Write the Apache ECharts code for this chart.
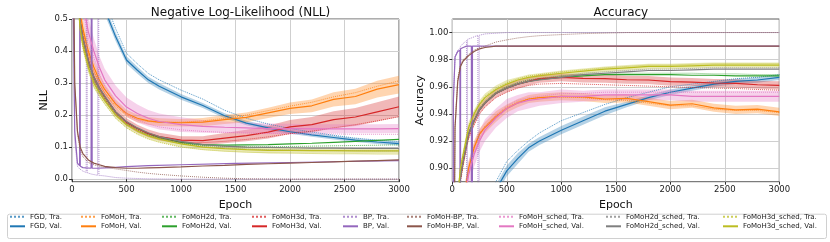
<!DOCTYPE html>
<html><head><meta charset="utf-8">
<script src="https://cdn.jsdelivr.net/npm/echarts@6/dist/echarts.min.js"></script>
<style>html,body{margin:0;padding:0;background:#fff}#c{width:830px;height:242px}</style>
</head><body><div id="c"></div><script>
// ---------- data ----------
const EPOCHS = [0,10,25,50,75,100,150,200,250,300,400,500,600,700,800,1000,1200,1400,1600,1800,2000,2200,2400,2600,2800,3000];
const BP_EPOCHS = [0,10,25,50,70,73,76,100,130,135,140,175,180,185,235,241,247,300,400,500,700,1000,1500,2000,2500,3000];
const X_TICKS = [0,500,1000,1500,2000,2500,3000];
const NLL_TICKS = [0,0.1,0.2,0.3,0.4,0.5];
const ACC_TICKS = [0.90,0.92,0.94,0.96,0.98,1.00];
const METHODS = ['FGD','FoMoH','FoMoH2d','FoMoH3d','BP','FoMoH-BP','FoMoH_sched','FoMoH2d_sched','FoMoH3d_sched'];

// NLL
const FGD_NLL_TRA = [2.30,2.20,2.00,1.60,1.30,1.10,0.85,0.72,0.63,0.56,0.47,0.393,0.36,0.33,0.31,0.278,0.25,0.215,0.19,0.172,0.158,0.147,0.137,0.128,0.122,0.117];
const FGD_NLL_VAL = [2.30,2.20,2.00,1.60,1.30,1.05,0.82,0.69,0.60,0.53,0.445,0.372,0.34,0.31,0.29,0.257,0.23,0.198,0.175,0.16,0.148,0.138,0.13,0.122,0.116,0.111];
const FOMOH_NLL_TRA = [2.30,1.60,1.00,0.63,0.51,0.46,0.39,0.34,0.30,0.27,0.228,0.20,0.186,0.18,0.178,0.178,0.182,0.19,0.20,0.214,0.228,0.24,0.257,0.27,0.29,0.307];
const FOMOH_NLL_VAL = [2.30,1.60,1.00,0.64,0.52,0.47,0.40,0.35,0.31,0.28,0.235,0.205,0.19,0.182,0.178,0.176,0.178,0.186,0.193,0.207,0.221,0.229,0.249,0.258,0.281,0.295];
const FOMOH2D_NLL_TRA = [2.30,1.55,0.95,0.59,0.48,0.43,0.36,0.31,0.275,0.25,0.203,0.172,0.152,0.137,0.126,0.112,0.105,0.102,0.101,0.101,0.102,0.103,0.104,0.105,0.106,0.107];
const FOMOH2D_NLL_VAL = [2.30,1.55,0.95,0.60,0.49,0.44,0.37,0.32,0.285,0.258,0.21,0.178,0.158,0.142,0.13,0.115,0.108,0.106,0.107,0.108,0.11,0.112,0.115,0.118,0.121,0.124];
const FOMOH3D_NLL_TRA = [2.30,1.55,0.95,0.59,0.48,0.43,0.36,0.31,0.278,0.25,0.205,0.173,0.153,0.138,0.128,0.116,0.114,0.118,0.124,0.132,0.142,0.15,0.16,0.17,0.182,0.195];
const FOMOH3D_NLL_VAL = [2.30,1.55,0.95,0.60,0.49,0.44,0.37,0.32,0.285,0.258,0.21,0.178,0.158,0.143,0.133,0.122,0.12,0.128,0.136,0.147,0.163,0.17,0.186,0.194,0.21,0.226];
const BP_NLL_TRA = [2.30,0.55,0.12,0.04,0.032,0.03,0.029,0.025,0.021,1.50,0.02,0.016,0.016,0.015,0.012,1.50,0.012,0.01,0.005,0.003,0.001,0.0,0.0,0.0,0.0,0.0];
const BP_NLL_VAL = [2.30,0.60,0.15,0.05,0.042,1.50,0.04,0.036,0.035,0.035,0.035,0.034,1.50,0.034,0.034,0.034,0.034,0.035,0.037,0.039,0.042,0.045,0.049,0.052,0.055,0.058];
const FOMOHBP_NLL_TRA = [2.30,0.80,0.30,0.14,0.09,0.07,0.052,0.045,0.04,0.037,0.032,0.027,0.022,0.018,0.015,0.01,0.006,0.003,0.001,0.0005,0.0,0.0,0.0,0.0,0.0,0.0];
const FOMOHBP_NLL_VAL = [2.30,0.80,0.30,0.15,0.10,0.08,0.06,0.05,0.045,0.04,0.036,0.034,0.034,0.035,0.036,0.038,0.041,0.043,0.046,0.048,0.05,0.052,0.054,0.056,0.058,0.06];
const SCHED_NLL_TRA = [2.30,1.70,1.10,0.70,0.58,0.53,0.44,0.38,0.33,0.29,0.24,0.205,0.185,0.172,0.163,0.154,0.149,0.146,0.144,0.143,0.142,0.141,0.141,0.14,0.14,0.14];
const SCHED_NLL_VAL = [2.30,1.70,1.10,0.72,0.60,0.55,0.46,0.40,0.35,0.31,0.26,0.225,0.205,0.19,0.18,0.17,0.165,0.162,0.16,0.158,0.158,0.157,0.157,0.157,0.157,0.158];
const SCHED2D_NLL_TRA = [2.30,1.55,0.95,0.59,0.48,0.43,0.36,0.31,0.275,0.25,0.202,0.172,0.152,0.138,0.127,0.112,0.102,0.097,0.094,0.092,0.091,0.09,0.089,0.089,0.088,0.088];
const SCHED2D_NLL_VAL = [2.30,1.55,0.95,0.60,0.49,0.44,0.37,0.32,0.285,0.26,0.21,0.18,0.16,0.145,0.133,0.118,0.108,0.103,0.10,0.099,0.098,0.097,0.097,0.096,0.096,0.096];
const SCHED3D_NLL_TRA = [2.30,1.50,0.90,0.57,0.46,0.41,0.34,0.29,0.26,0.235,0.19,0.16,0.14,0.125,0.115,0.10,0.092,0.087,0.084,0.082,0.081,0.08,0.079,0.079,0.078,0.078];
const SCHED3D_NLL_VAL = [2.30,1.50,0.90,0.58,0.47,0.42,0.35,0.30,0.27,0.245,0.20,0.17,0.15,0.135,0.125,0.11,0.10,0.095,0.092,0.09,0.09,0.089,0.089,0.088,0.088,0.088];

// Accuracy
const FGD_ACC_TRA = [0.10,0.30,0.50,0.65,0.72,0.76,0.80,0.83,0.85,0.868,0.89,0.905,0.913,0.92,0.926,0.935,0.941,0.947,0.952,0.956,0.96,0.962,0.964,0.966,0.967,0.969];
const FGD_ACC_VAL = [0.10,0.30,0.50,0.64,0.71,0.75,0.79,0.82,0.845,0.862,0.884,0.898,0.907,0.915,0.92,0.928,0.935,0.942,0.947,0.952,0.956,0.959,0.962,0.964,0.965,0.967];
const FOMOH_ACC_TRA = [0.10,0.35,0.62,0.82,0.86,0.876,0.90,0.916,0.926,0.931,0.939,0.945,0.949,0.951,0.952,0.9525,0.952,0.9505,0.95,0.948,0.946,0.946,0.9435,0.9425,0.9425,0.941];
const FOMOH_ACC_VAL = [0.10,0.35,0.62,0.82,0.86,0.875,0.90,0.915,0.925,0.93,0.938,0.944,0.948,0.951,0.952,0.953,0.9525,0.951,0.9515,0.949,0.9465,0.9475,0.9445,0.943,0.9435,0.9415];
const FOMOH2D_ACC_TRA = [0.10,0.38,0.68,0.87,0.894,0.906,0.926,0.936,0.944,0.949,0.956,0.96,0.963,0.965,0.966,0.968,0.969,0.97,0.97,0.97,0.97,0.97,0.9695,0.9695,0.969,0.969];
const FOMOH2D_ACC_VAL = [0.10,0.38,0.68,0.87,0.893,0.905,0.925,0.935,0.943,0.948,0.955,0.959,0.962,0.964,0.9655,0.967,0.968,0.969,0.969,0.969,0.969,0.9685,0.9685,0.968,0.968,0.968];
const FOMOH3D_ACC_TRA = [0.10,0.38,0.68,0.865,0.89,0.902,0.922,0.932,0.94,0.945,0.952,0.956,0.959,0.961,0.962,0.9625,0.962,0.9615,0.961,0.9605,0.96,0.9595,0.959,0.9588,0.958,0.9575];
const FOMOH3D_ACC_VAL = [0.10,0.38,0.68,0.87,0.893,0.905,0.925,0.935,0.943,0.948,0.955,0.959,0.962,0.964,0.966,0.967,0.9662,0.966,0.9652,0.965,0.9638,0.9635,0.9628,0.9625,0.9615,0.961];
const BP_ACC_TRA = [0.10,0.95,0.982,0.987,0.988,0.989,0.99,0.992,0.994,0.10,0.995,0.996,0.996,0.997,0.998,0.10,0.998,0.999,0.9995,1.0,1.0,1.0,1.0,1.0,1.0,1.0];
const BP_ACC_VAL = [0.10,0.95,0.982,0.986,0.987,0.10,0.988,0.989,0.99,0.99,0.99,0.99,0.10,0.99,0.99,0.99,0.99,0.99,0.99,0.99,0.99,0.99,0.99,0.99,0.99,0.99];
const FOMOHBP_ACC_TRA = [0.10,0.75,0.93,0.966,0.976,0.98,0.984,0.987,0.989,0.99,0.993,0.9946,0.996,0.997,0.9977,0.9985,0.9992,0.9996,1.0,1.0,1.0,1.0,1.0,1.0,1.0,1.0];
const FOMOHBP_ACC_VAL = [0.10,0.75,0.93,0.964,0.975,0.979,0.983,0.986,0.988,0.989,0.99,0.99,0.99,0.99,0.99,0.99,0.99,0.99,0.99,0.99,0.99,0.99,0.99,0.99,0.99,0.99];
const SCHED_ACC_TRA = [0.10,0.33,0.60,0.80,0.85,0.872,0.897,0.912,0.922,0.93,0.939,0.946,0.95,0.952,0.953,0.955,0.955,0.956,0.956,0.956,0.956,0.956,0.956,0.956,0.956,0.956];
const SCHED_ACC_VAL = [0.10,0.33,0.60,0.80,0.85,0.87,0.895,0.91,0.92,0.928,0.937,0.944,0.948,0.95,0.951,0.953,0.953,0.954,0.954,0.954,0.954,0.953,0.953,0.953,0.953,0.953];
const SCHED2D_ACC_TRA = [0.10,0.38,0.68,0.87,0.894,0.906,0.926,0.936,0.944,0.949,0.956,0.96,0.963,0.965,0.966,0.968,0.97,0.971,0.972,0.973,0.973,0.9735,0.974,0.974,0.974,0.974];
const SCHED2D_ACC_VAL = [0.10,0.38,0.68,0.87,0.893,0.905,0.925,0.935,0.943,0.948,0.955,0.959,0.962,0.964,0.965,0.967,0.969,0.97,0.971,0.972,0.972,0.9725,0.973,0.973,0.973,0.973];
const SCHED3D_ACC_TRA = [0.10,0.40,0.70,0.88,0.901,0.911,0.931,0.941,0.948,0.953,0.959,0.963,0.966,0.968,0.969,0.971,0.9725,0.974,0.975,0.976,0.976,0.9765,0.977,0.977,0.977,0.977];
const SCHED3D_ACC_VAL = [0.10,0.40,0.70,0.88,0.90,0.91,0.93,0.94,0.947,0.952,0.958,0.962,0.965,0.967,0.968,0.97,0.9715,0.973,0.974,0.975,0.975,0.9755,0.976,0.976,0.976,0.976];

// spread (half-width) of the shaded bands around the Val. curves
const FGD_NLL_STD = [0,0.02,0.02,0.02,0.02,0.02,0.02,0.02,0.018,0.016,0.014,0.012,0.011,0.01,0.01,0.009,0.008,0.008,0.007,0.007,0.006,0.006,0.006,0.006,0.006,0.006];
const FOMOH_NLL_STD = [0,0.03,0.03,0.03,0.03,0.03,0.025,0.02,0.018,0.016,0.014,0.012,0.012,0.012,0.012,0.012,0.013,0.014,0.015,0.016,0.018,0.02,0.022,0.024,0.026,0.028];
const FOMOH3D_NLL_STD = [0,0.03,0.03,0.03,0.03,0.03,0.025,0.02,0.018,0.016,0.014,0.012,0.012,0.012,0.012,0.012,0.014,0.016,0.018,0.02,0.022,0.024,0.026,0.028,0.03,0.032];
const SCHED_NLL_STD = [0,0.05,0.05,0.05,0.05,0.05,0.045,0.04,0.035,0.035,0.032,0.03,0.028,0.026,0.025,0.023,0.02,0.018,0.017,0.016,0.015,0.014,0.014,0.014,0.014,0.014];
const SCHED3D_NLL_STD = [0,0.02,0.02,0.02,0.02,0.02,0.018,0.016,0.014,0.012,0.011,0.01,0.01,0.01,0.01,0.01,0.009,0.009,0.009,0.009,0.009,0.009,0.009,0.009,0.009,0.009];
const FGD_ACC_STD = [0,0.005,0.005,0.005,0.005,0.005,0.005,0.005,0.005,0.004,0.004,0.004,0.004,0.003,0.003,0.003,0.003,0.003,0.002,0.002,0.002,0.002,0.002,0.002,0.002,0.002];
const FOMOH_ACC_STD = [0,0.006,0.006,0.006,0.006,0.006,0.005,0.005,0.004,0.004,0.004,0.003,0.003,0.003,0.003,0.003,0.003,0.003,0.003,0.003,0.003,0.003,0.003,0.003,0.003,0.003];
const FOMOH3D_ACC_STD = [0,0.004,0.004,0.004,0.004,0.004,0.004,0.004,0.003,0.003,0.003,0.003,0.003,0.003,0.003,0.003,0.003,0.003,0.003,0.003,0.003,0.003,0.003,0.003,0.003,0.003];
const SCHED_ACC_STD = [0,0.01,0.01,0.01,0.01,0.01,0.01,0.009,0.008,0.008,0.007,0.007,0.006,0.006,0.005,0.005,0.004,0.004,0.004,0.004,0.004,0.004,0.004,0.004,0.004,0.004];
const SCHED3D_ACC_STD = [0,0.004,0.004,0.004,0.004,0.004,0.004,0.003,0.003,0.003,0.003,0.003,0.002,0.002,0.002,0.002,0.002,0.002,0.002,0.002,0.002,0.002,0.002,0.002,0.002,0.002];

// ---------- styling ----------
const COLORS = ['#1f77b4','#ff7f0e','#2ca02c','#d62728','#9467bd','#8c564b','#e377c2','#7f7f7f','#bcbd22'];
const LEGEND_TEXT_X = [29,100,181,271,362,426,518,625,742];

const NLL = [
  [FGD_NLL_TRA,FGD_NLL_VAL,FGD_NLL_STD,EPOCHS],
  [FOMOH_NLL_TRA,FOMOH_NLL_VAL,FOMOH_NLL_STD,EPOCHS],
  [FOMOH2D_NLL_TRA,FOMOH2D_NLL_VAL,null,EPOCHS],
  [FOMOH3D_NLL_TRA,FOMOH3D_NLL_VAL,FOMOH3D_NLL_STD,EPOCHS],
  [BP_NLL_TRA,BP_NLL_VAL,null,BP_EPOCHS],
  [FOMOHBP_NLL_TRA,FOMOHBP_NLL_VAL,null,EPOCHS],
  [SCHED_NLL_TRA,SCHED_NLL_VAL,SCHED_NLL_STD,EPOCHS],
  [SCHED2D_NLL_TRA,SCHED2D_NLL_VAL,null,EPOCHS],
  [SCHED3D_NLL_TRA,SCHED3D_NLL_VAL,SCHED3D_NLL_STD,EPOCHS]
];
const ACC = [
  [FGD_ACC_TRA,FGD_ACC_VAL,FGD_ACC_STD,EPOCHS],
  [FOMOH_ACC_TRA,FOMOH_ACC_VAL,FOMOH_ACC_STD,EPOCHS],
  [FOMOH2D_ACC_TRA,FOMOH2D_ACC_VAL,null,EPOCHS],
  [FOMOH3D_ACC_TRA,FOMOH3D_ACC_VAL,FOMOH3D_ACC_STD,EPOCHS],
  [BP_ACC_TRA,BP_ACC_VAL,null,BP_EPOCHS],
  [FOMOHBP_ACC_TRA,FOMOHBP_ACC_VAL,null,EPOCHS],
  [SCHED_ACC_TRA,SCHED_ACC_VAL,SCHED_ACC_STD,EPOCHS],
  [SCHED2D_ACC_TRA,SCHED2D_ACC_VAL,null,EPOCHS],
  [SCHED3D_ACC_TRA,SCHED3D_ACC_VAL,SCHED3D_ACC_STD,EPOCHS]
];

function hexA(hex,a){const n=parseInt(hex.slice(1),16);return `rgba(${n>>16},${(n>>8)&255},${n&255},${a})`;}
const pairs=(xs,ys)=>xs.map((x,i)=>[x,ys[i]]);

function bandSeries(gi, xs, val, std, color){
  const rows = xs.map((x,k)=>[x, val[k]-std[k], val[k]+std[k]]);
  return {type:'custom',xAxisIndex:gi,yAxisIndex:gi,silent:true,clip:true,
    encode:{x:0,y:[1,2]},data:rows,
    renderItem:(params,api)=>{
      if(params.dataIndex!==0) return null;
      const up=[], lo=[];
      rows.forEach(r=>{up.push(api.coord([r[0],r[2]])); lo.push(api.coord([r[0],r[1]]));});
      return {type:'polygon',shape:{points:up.concat(lo.reverse())},style:{fill:color}};
    }};
}

const series=[];
function addPanel(sets, gi){
  sets.forEach((s,i)=>{
    const [tra,val,std,xs]=s, c=COLORS[i], m=METHODS[i];
    if(std) series.push(bandSeries(gi,xs,val,std,hexA(c,0.33)));
    series.push({name:m+', Tra.',type:'line',xAxisIndex:gi,yAxisIndex:gi,symbol:'none',data:pairs(xs,tra),
      color:hexA(c,0.75),lineStyle:{width:1,type:'dotted',color:hexA(c,0.75)}});
    series.push({name:m+', Val.',type:'line',xAxisIndex:gi,yAxisIndex:gi,symbol:'none',data:pairs(xs,val),
      color:c,lineStyle:{width:1.2,color:c}});
  });
}
addPanel(NLL,0);
addPanel(ACC,1);

const axisLbl={fontSize:8.5,color:'#222',fontFamily:'DejaVu Sans'};
function xAx(gi){return {type:'value',gridIndex:gi,min:0,max:3000,interval:500,
  name:'Epoch',nameLocation:'middle',nameGap:7,nameTextStyle:{fontSize:11,color:'#111',fontFamily:'DejaVu Sans'},
  axisLine:{show:false},axisTick:{show:true,length:3,lineStyle:{color:'#333'},customValues:X_TICKS},
  axisLabel:Object.assign({margin:4,customValues:X_TICKS,formatter:v=>String(v)},axisLbl),
  splitLine:{show:true,lineStyle:{color:'#cfcfcf',width:1}}};}
function yAx(gi,min,max,ticks,dec,name,gap){return {type:'value',gridIndex:gi,min,max,
  name,nameLocation:'middle',nameGap:gap,nameTextStyle:{fontSize:11,color:'#111',fontFamily:'DejaVu Sans'},
  axisLine:{show:false},axisTick:{show:true,length:3,lineStyle:{color:'#333'},customValues:ticks},
  axisLabel:Object.assign({margin:4,customValues:ticks,formatter:v=>v.toFixed(dec)},axisLbl),
  splitLine:{show:true,lineStyle:{color:'#cfcfcf',width:1}}};}

const legends=METHODS.map((m,i)=>({orient:'vertical',left:LEGEND_TEXT_X[i]-20,top:212.7,itemWidth:15,itemHeight:10,itemGap:1.6,
  data:[m+', Tra.',m+', Val.'],textStyle:{fontSize:7,color:'#222',fontFamily:'DejaVu Sans',padding:[0,0,0,0]},
  itemStyle:{opacity:0},selectedMode:false,padding:0}));

const chart=echarts.init(document.getElementById('c'),null,{renderer:'canvas'});
chart.setOption({
  animation:false,
  textStyle:{fontFamily:'DejaVu Sans'},
  title:[{text:'Negative Log-Likelihood (NLL)',left:235.5,top:2,textAlign:'center',textStyle:{fontSize:12,fontWeight:'normal',color:'#111'}},
         {text:'Accuracy',left:615.8,top:2,textAlign:'center',textStyle:{fontSize:12,fontWeight:'normal',color:'#111'}}],
  grid:[{left:72,top:19,width:327,height:162.7,show:true,borderColor:'#333',borderWidth:0.8,backgroundColor:'transparent'},
        {left:452.3,top:19,width:327,height:162.7,show:true,borderColor:'#333',borderWidth:0.8,backgroundColor:'transparent'}],
  xAxis:[xAx(0),xAx(1)],
  yAxis:[yAx(0,-0.008,0.5,NLL_TICKS,1,'NLL',22),yAx(1,0.89,1.01,ACC_TICKS,2,'Accuracy',27)],
  legend:legends,
  graphic:[{type:'rect',left:5,top:211.7,shape:{width:819,height:24.3,r:2},style:{fill:'none',stroke:'#d0d0d0',lineWidth:1},silent:true,z:-1}],
  series
});
</script></body></html>
